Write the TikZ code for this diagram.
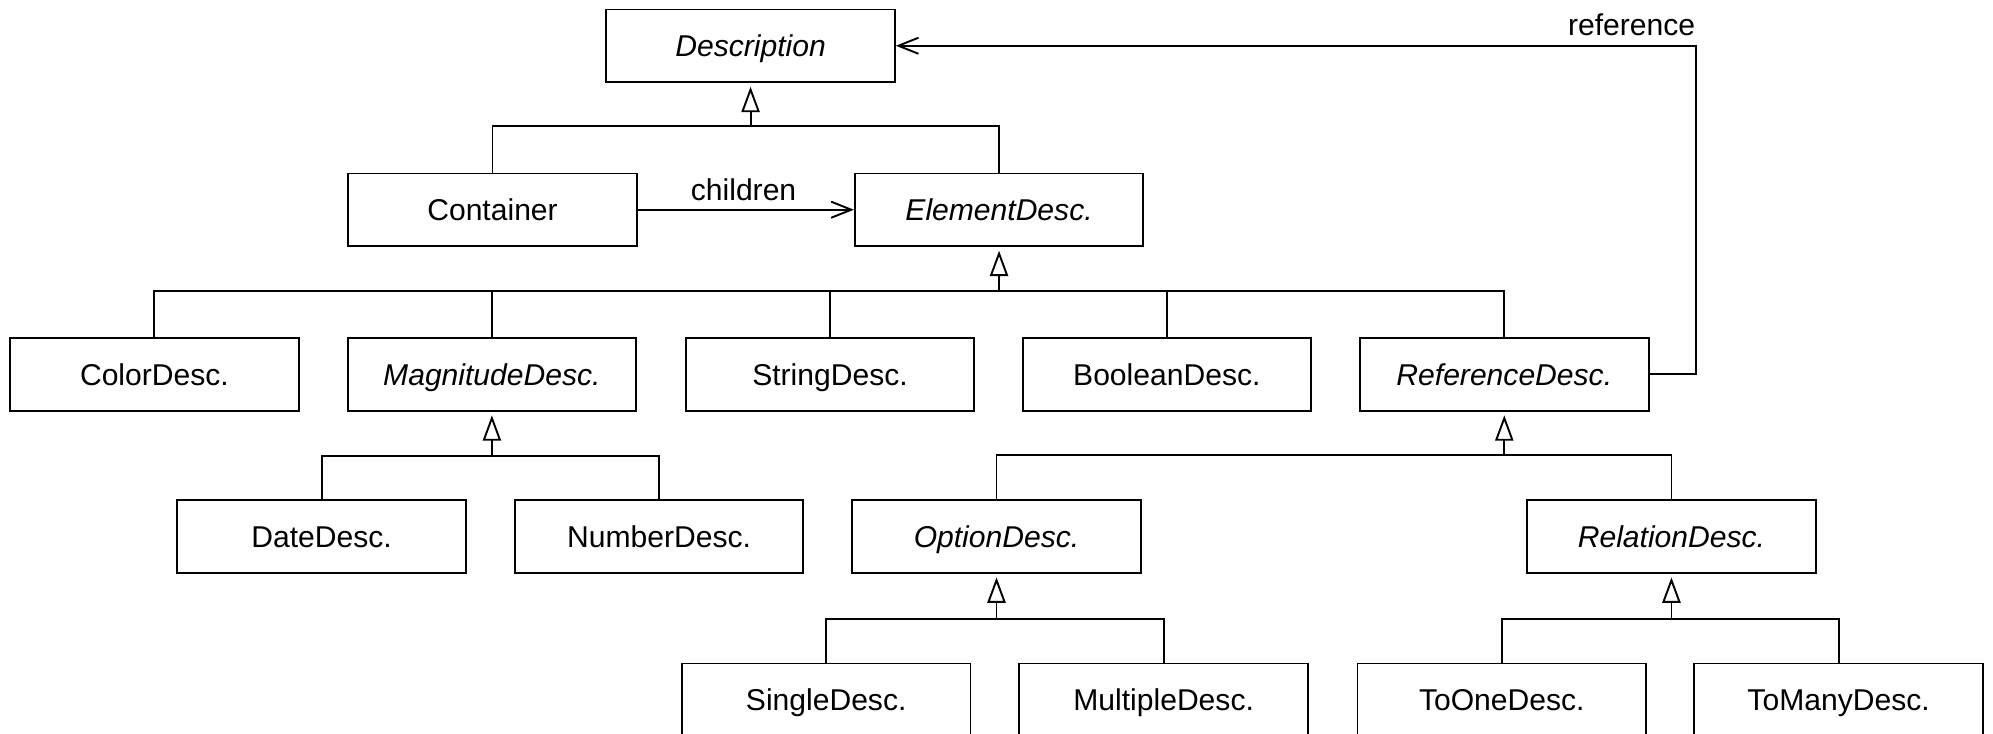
\documentclass[tikz,border=0pt]{standalone}
\usepackage{fontspec}
\setmainfont{Liberation Sans}
\usetikzlibrary{arrows.meta}
\begin{document}
\begin{tikzpicture}[x=0.6pt,y=-0.6pt,
  txt/.style={font=\fontsize{14.2}{17}\selectfont},
  cls/.style={txt, draw, line width=0.9pt, minimum width=136.2pt, minimum height=34.2pt,
              inner sep=0pt, text height=10.2pt, text depth=0pt},
  abstract/.style={cls, font=\fontsize{14.2}{17}\selectfont\itshape},
  link/.style={line width=0.9pt},
  gen/.style={link, shorten >=1.8pt, -{Triangle[open, length=12pt, width=8.6pt, line width=0.9pt]}},
  assoc/.style={link, -{Straight Barb[length=9.5pt, width=7.6pt, line width=0.9pt]}},
  lbl/.style={txt, inner sep=0pt}
]
\useasboundingbox (0,0) rectangle (1568,577);

% classes
\node[abstract] (desc) at (590.5,36) {Description};
\node[cls] (cont) at (387.5,165) {Container};
\node[abstract] (elem) at (786,165) {ElementDesc.};

\node[cls] (color) at (121.5,294.5) {ColorDesc.};
\node[abstract] (mag) at (387,294.5) {MagnitudeDesc.};
\node[cls] (string) at (653,294.5) {StringDesc.};
\node[cls] (bool) at (918,294.5) {BooleanDesc.};
\node[abstract] (ref) at (1183.5,294.5) {ReferenceDesc.};

\node[cls] (date) at (253,422) {DateDesc.};
\node[cls] (num) at (518.5,422) {NumberDesc.};
\node[abstract] (opt) at (784,422) {OptionDesc.};
\node[abstract] (rel) at (1315,422) {RelationDesc.};

\node[cls] (single) at (650,550.5) {SingleDesc.};
\node[cls] (multi) at (915.5,550.5) {MultipleDesc.};
\node[cls] (toone) at (1181.5,550.5) {ToOneDesc.};
\node[cls] (tomany) at (1446.5,550.5) {ToManyDesc.};

% generalization bars
\coordinate (b1) at (590.5,99);
\coordinate (b2) at (786,229);
\coordinate (b3) at (387,359);
\coordinate (b4) at (1183.5,358);
\coordinate (b5) at (784,487);
\coordinate (b6) at (1315,487);

\draw[link] (cont.north) |- (b1) -| (elem.north);
\draw[gen] (b1) -- (desc.south);

\draw[link] (color.north) |- (b2) -| (ref.north);
\draw[link] (mag.north) -- (mag.north |- b2);
\draw[link] (string.north) -- (string.north |- b2);
\draw[link] (bool.north) -- (bool.north |- b2);
\draw[gen] (b2) -- (elem.south);

\draw[link] (date.north) |- (b3) -| (num.north);
\draw[gen] (b3) -- (mag.south);

\draw[link] (opt.north) |- (b4) -| (rel.north);
\draw[gen] (b4) -- (ref.south);

\draw[link] (single.north) |- (b5) -| (multi.north);
\draw[gen] (b5) -- (opt.south);

\draw[link] (toone.north) |- (b6) -| (tomany.north);
\draw[gen] (b6) -- (rel.south);

% associations
\draw[assoc] (cont.east) -- (elem.west);
\node[lbl, anchor=base] (childlbl) at (585,157.5) {children};

\coordinate (rc) at (1334,36);
\draw[assoc] (ref.east) -| (rc) -- (desc.east);
\node[lbl, anchor=base east] (reflbl) at (1334,27.6) {reference};
\end{tikzpicture}
\end{document}
